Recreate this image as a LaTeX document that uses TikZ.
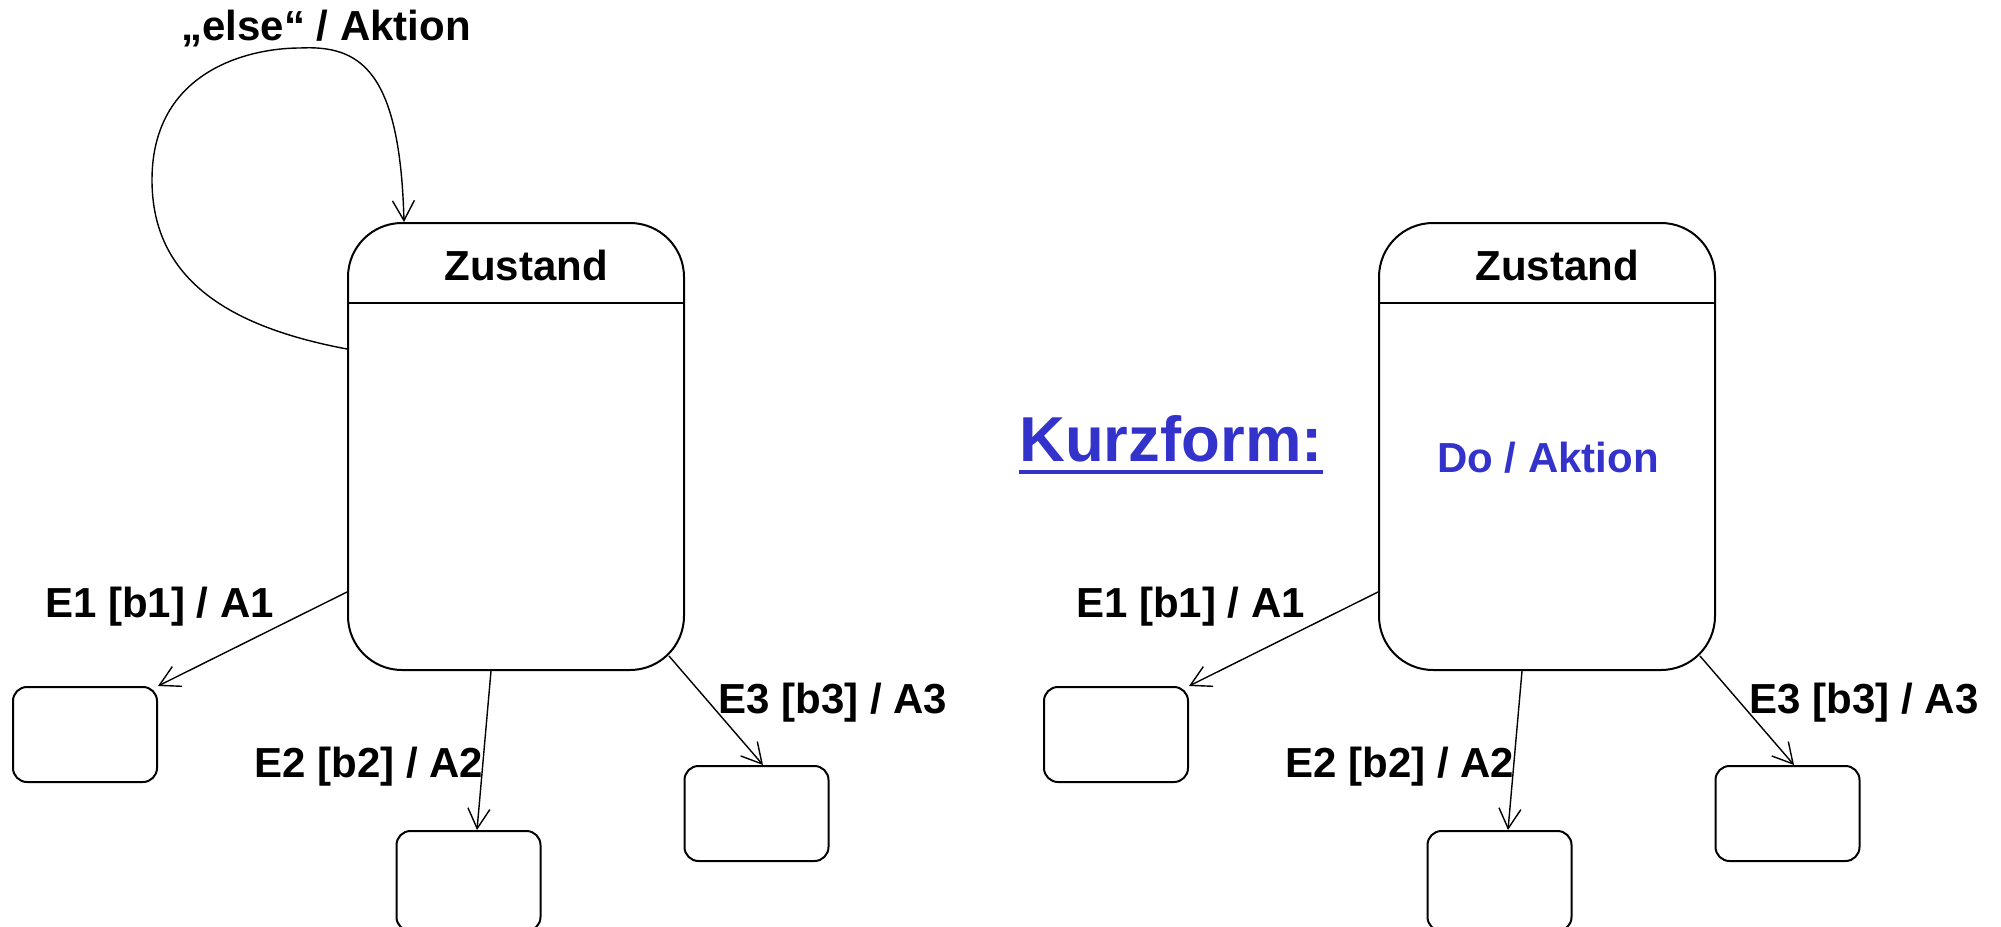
\documentclass[tikz,border=0pt]{standalone}
\usepackage{fontspec}
\setmainfont{Liberation Sans}
\usetikzlibrary{arrows.meta,calc}
\definecolor{kurzblau}{RGB}{51,51,204}
\begin{document}
\begin{tikzpicture}[x=0.5pt,y=-0.5pt,
  state/.style={draw, line width=1pt, rounded corners=27pt,
    minimum width=168pt, minimum height=223.5pt, inner sep=0pt},
  target/.style={draw, line width=1pt, rounded corners=7pt,
    minimum width=72pt, minimum height=47.5pt, inner sep=0pt},
  lowtarget/.style={target, minimum height=50pt},
  lbl/.style={font=\fontsize{21}{25}\selectfont\bfseries, inner sep=0pt, anchor=base},
  trans/.style={line width=0.7pt, -{Straight Barb[length=10pt,width=11pt]}},
]
\useasboundingbox (0,0) rectangle (2001,926);

% ---------- left: state with explicit self transition ----------
\node[state] (s1) at (516,446.5) {};
\draw[line width=1pt] (s1.west |- 0,303) -- (s1.east |- 0,303);
\node[lbl] (z1) at (526,280) {Zustand};

\node[target] (t1) at (85,734.5) {};
\node[lowtarget] (t2) at (468.5,881) {};
\node[target] (t3) at (756.5,813.5) {};

% self transition
\coordinate (loopstart) at ($(s1.north west)+(0,127)$);
\coordinate (loopend) at ($(s1.north west)+(57,0)$);
\draw[trans] (loopstart) .. controls (230,327) and (152,280) .. (152,180)
  .. controls (152,70) and (250,48) .. (300,48)
  .. controls (360,45) and (400,70) .. (loopend);
\node[lbl] (lelse) at (326,40) {„else“ / Aktion};

\draw[trans] ($(s1.south west)+(0,-79)$) -- (t1.north east);
\draw[trans] ($(s1.south)+(-25,0)$) -- ($(t2.north)+(8.5,0)$);
\draw[trans] ($(s1.south east)+(-16,-15)$) -- ($(t3.north)+(6.5,0)$);

\node[lbl] (e1) at (159.5,617) {E1 [b1] / A1};
\node[lbl] (e2) at (369,777.5) {E2 [b2] / A2};
\node[lbl] (e3) at (833,713.5) {E3 [b3] / A3};

% ---------- right: short form with do-activity ----------
\node[state] (s2) at (1547,446.5) {};
\draw[line width=1pt] (s2.west |- 0,303) -- (s2.east |- 0,303);
\node[lbl] (z2) at (1557,280) {Zustand};
\node[lbl, text=kurzblau] (do) at (1548,472) {Do / Aktion};

\node[target] (u1) at (1116,734.5) {};
\node[lowtarget] (u2) at (1499.5,881) {};
\node[target] (u3) at (1787.5,813.5) {};

\draw[trans] ($(s2.south west)+(0,-79)$) -- (u1.north east);
\draw[trans] ($(s2.south)+(-25,0)$) -- ($(u2.north)+(8.5,0)$);
\draw[trans] ($(s2.south east)+(-16,-15)$) -- ($(u3.north)+(6.5,0)$);

\node[lbl] (f1) at (1190.5,617) {E1 [b1] / A1};
\node[lbl] (f2) at (1400,777.5) {E2 [b2] / A2};
\node[lbl] (f3) at (1864,713.5) {E3 [b3] / A3};

% ---------- heading ----------
\node[font=\fontsize{31.75}{38}\selectfont\bfseries, text=kurzblau,
  inner sep=0pt, anchor=base] (kurz) at (1171,461) {Kurzform:};
\draw[kurzblau, line width=2.2pt] ($(kurz.base west)+(0,11)$) -- ($(kurz.base east)+(0,11)$);
\end{tikzpicture}
\end{document}
